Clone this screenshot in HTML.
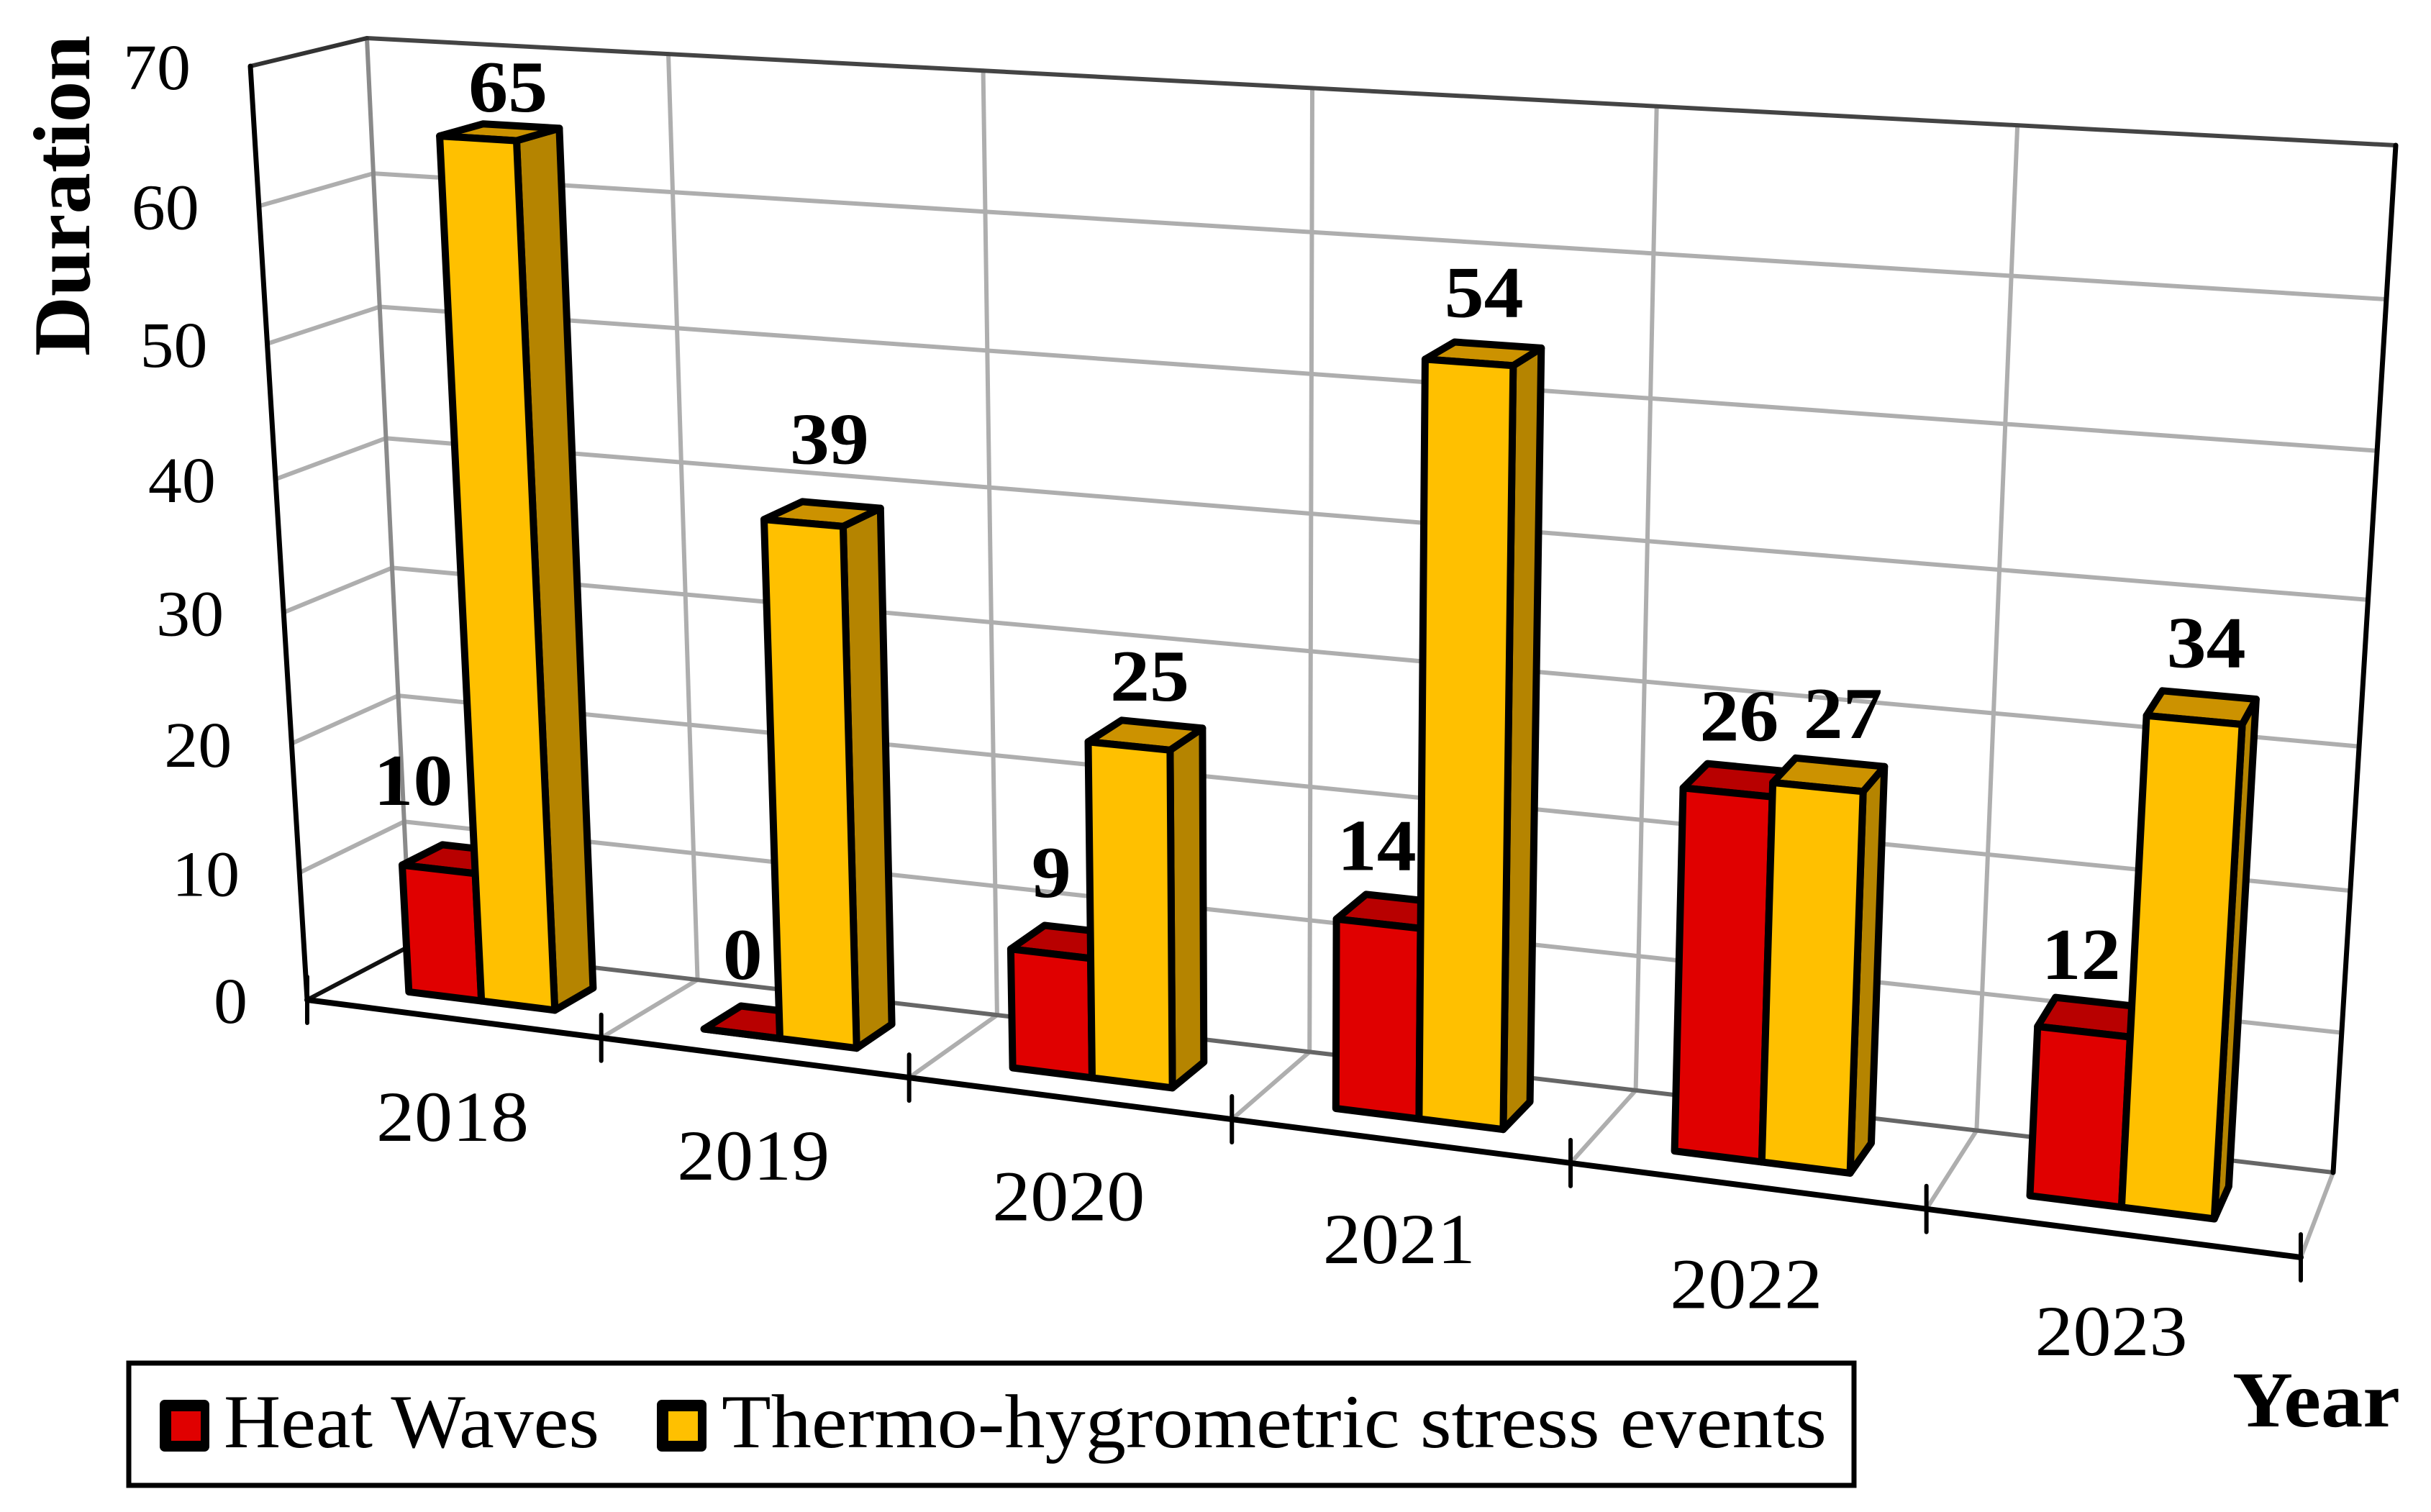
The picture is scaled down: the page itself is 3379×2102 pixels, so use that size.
<!DOCTYPE html>
<html lang="en">
<head>
<meta charset="utf-8">
<title>Duration of heat waves and thermo-hygrometric stress events by year</title>
<style>
html,body{margin:0;padding:0;background:#fff;}
#chart{display:block;width:3379px;height:2102px;font-family:"Liberation Serif",serif;}
</style>
</head>
<body>
<svg id="chart" xmlns="http://www.w3.org/2000/svg" width="3379" height="2102" viewBox="0 0 3379 2102">
  <rect x="0" y="0" width="3379" height="2102" fill="#ffffff"/>
  <g id="plot"></g>
  <g id="labels"></g>
  <text transform="translate(124,495) rotate(-90)" font-size="112" font-weight="bold" textLength="446" lengthAdjust="spacingAndGlyphs" fill="#000">Duration</text>
  <text x="3103" y="1983" font-size="110" font-weight="bold" textLength="233" lengthAdjust="spacingAndGlyphs" fill="#000">Year</text>
  <g>
    <rect x="179" y="1895" width="2398" height="170" fill="#fff" stroke="#000" stroke-width="7"/>
    <g>
      <rect x="222" y="1946" width="69" height="72" rx="7" fill="#000"/>
      <rect x="238" y="1962" width="41" height="41" fill="#e00000"/>
      <text x="311" y="2012" font-size="106" textLength="522" lengthAdjust="spacingAndGlyphs" fill="#000">Heat Waves</text>
    </g>
    <g>
      <rect x="913" y="1946" width="69" height="72" rx="7" fill="#000"/>
      <rect x="929" y="1962" width="41" height="41" fill="#ffc000"/>
      <text x="1003" y="2012" font-size="106" textLength="1536" lengthAdjust="spacingAndGlyphs" fill="#000">Thermo-hygrometric stress events</text>
    </g>
  </g>
</svg>
<script>
// Chart data
const categories = ['2018', '2019', '2020', '2021', '2022', '2023'];
const heatWaves = [10, 0, 9, 14, 26, 12];
const thermoStress = [65, 39, 25, 54, 27, 34];
const yTicks = [0, 10, 20, 30, 40, 50, 60, 70];
const yMax = 70;

// Label fine-placement relative to each bar's top face: [dx, dy]
const heatLabelNudge = [[-63,-108],[-24,-93],[-22,-95],[-22,-90],[0,-88],[-15,-86]];
const thermoLabelNudge = [[12,-62],[10,-103],[6,-81],[1,-84],[20,-84],[7,-89]];

const NS = 'http://www.w3.org/2000/svg';
const plot = document.getElementById('plot');
const labelLayer = document.getElementById('labels');

// Perspective frame: corners of the front and back planes (bl, br, tr, tl)
function squareToQuad(q) {
  const [x0,y0]=q[0],[x1,y1]=q[1],[x2,y2]=q[2],[x3,y3]=q[3];
  const dx1=x1-x2,dx2=x3-x2,sx=x0-x1+x2-x3;
  const dy1=y1-y2,dy2=y3-y2,sy=y0-y1+y2-y3;
  const den=dx1*dy2-dx2*dy1;
  const g=(sx*dy2-dx2*sy)/den,h=(dx1*sy-sx*dy1)/den;
  const a=x1-x0+g*x1,b=x3-x0+h*x3,d=y1-y0+g*y1,e=y3-y0+h*y3;
  return (u,v)=>{const w=g*u+h*v+1;return [(a*u+b*v+x0)/w,(d*u+e*v+y0)/w];};
}
const frontPlane = squareToQuad([[427,1390],[3198,1748],[3292,258],[348,92]]);
const backPlane = squareToQuad([[570,1315],[3243,1630],[3330,202],[510,53]]);

// Axis functions
function xAxis(position){ return position / categories.length; }
function yAxis(value){ return value / yMax; }
function project(u,v,depth){
  const f=frontPlane(u,v),b=backPlane(u,v);
  return [f[0]+(b[0]-f[0])*depth,f[1]+(b[1]-f[1])*depth];
}
function pts(list){ return list.map(p=>p[0].toFixed(1)+','+p[1].toFixed(1)).join(' '); }

function makeLine(a,b,stroke,width){
  const el=document.createElementNS(NS,'line');
  el.setAttribute('x1',a[0]);el.setAttribute('y1',a[1]);
  el.setAttribute('x2',b[0]);el.setAttribute('y2',b[1]);
  el.setAttribute('stroke',stroke);el.setAttribute('stroke-width',width);
  el.setAttribute('stroke-linecap','round');
  plot.appendChild(el);
  return el;
}
function makeFace(list,fill){
  const el=document.createElementNS(NS,'polygon');
  el.setAttribute('points',pts(list));
  el.setAttribute('fill',fill);
  el.setAttribute('stroke','#000');
  el.setAttribute('stroke-width','10');
  el.setAttribute('stroke-linejoin','round');
  plot.appendChild(el);
  return el;
}
function makeText(x,y,str,size,weight,anchor,len){
  const el=document.createElementNS(NS,'text');
  el.setAttribute('x',x);el.setAttribute('y',y);
  el.setAttribute('font-size',size);
  if(weight) el.setAttribute('font-weight',weight);
  el.setAttribute('text-anchor',anchor);
  if(len){el.setAttribute('textLength',len);el.setAttribute('lengthAdjust','spacingAndGlyphs');}
  el.setAttribute('fill','#000');
  el.textContent=str;
  labelLayer.appendChild(el);
  return el;
}

const GRID='#aeaeae';
// Horizontal gridlines on side and back walls
yTicks.forEach(t=>{
  const v=yAxis(t);
  if(t===0||t===yMax) return;
  const side=makeLine(project(0,v,0),project(0,v,1),GRID,6);
  
  
  const back=makeLine(project(0,v,1),project(1,v,1),GRID,6);
  
  
});
// Vertical gridlines on back wall and depth lines on the floor
categories.forEach((c,i)=>{
  const u=xAxis(i);
  if(i>0){
    const vert=makeLine(project(u,0,1),project(u,1,1),GRID,6);
    
    
    const floor=makeLine(project(u,0,0),project(u,0,1),GRID,6);
    
    
  }
});
const floorRight=makeLine(project(1,0,0),project(1,0,1),GRID,6);


const backLeft=makeLine(project(0,0,1),project(0,1,1),'#8a8a8a',6);


const floorBack=makeLine(project(0,0,1),project(1,0,1),'#666666',6);


const topBack=makeLine(project(0,1,1),project(1,1,1),'#444444',6);


const rightBack=makeLine(project(1,0,1),project(1,1,1),'#000000',7);


const topSide=makeLine(project(0,1,0),project(0,1,1),'#333333',6);


const frontLeft=makeLine(project(0,0,0),project(0,1,0),'#000',7);


const floorLeft=makeLine(project(0,0,0),project(0,0,1),'#111',6);



// Bars, drawn left to right so later columns overlap earlier ones
const D0=0.31,D1=0.70,GAP=0.243,BAR=0.25;
function drawBar(slug,catIndex,slot,value,colors,nudge,year){
  const u0=xAxis(catIndex+GAP+slot*BAR),u1=xAxis(catIndex+GAP+(slot+1)*BAR);
  const v=yAxis(value);
  const fbl=project(u0,0,D0),fbr=project(u1,0,D0),ftr=project(u1,v,D0),ftl=project(u0,v,D0);
  const bbr=project(u1,0,D1),btr=project(u1,v,D1),btl=project(u0,v,D1);
  const side=makeFace([fbr,bbr,btr,ftr],colors.side);
  
  
  const top=makeFace([ftl,ftr,btr,btl],colors.top);
  
  
  const front=makeFace([fbl,fbr,ftr,ftl],colors.front);
  
  
  const cx=(ftl[0]+btr[0])/2,cy=(ftl[1]+btr[1])/2;
  const text=String(value);
  const lab=makeText((cx+nudge[0]).toFixed(1),(cy+nudge[1]+33).toFixed(1),text,102,'bold','middle',55*text.length);
  
  
}
const heatColors={front:'#e00000',top:'#b80000',side:'#a00000'};
const thermoColors={front:'#ffc000',top:'#cc9200',side:'#b58400'};
categories.forEach((year,i)=>{
  drawBar('heat-waves',i,0,heatWaves[i],heatColors,heatLabelNudge[i],year);
  drawBar('thermo-hygrometric',i,1,thermoStress[i],thermoColors,thermoLabelNudge[i],year);
});

// Front axis line and ticks
const axisX=makeLine(project(0,0,0),project(1,0,0),'#000',8);


for(let i=0;i<=categories.length;i++){
  const p=project(xAxis(i),0,0);
  const tick=makeLine([p[0],p[1]-32],[p[0],p[1]+32],'#000',6);
  
  
}

// Tick labels
yTicks.forEach(t=>{
  const p=project(0,yAxis(t),0);
  const text=String(t);
  const el=makeText((p[0]-83).toFixed(1),(p[1]+32).toFixed(1),text,90,null,'end',47*text.length);
  
  
});
categories.forEach((year,i)=>{
  const p=project(xAxis(i+0.5),0,0);
  const el=makeText(p[0].toFixed(1),(p[1]+170).toFixed(1),year,100,null,'middle',212);
  
  
});
</script>
</body>
</html>
